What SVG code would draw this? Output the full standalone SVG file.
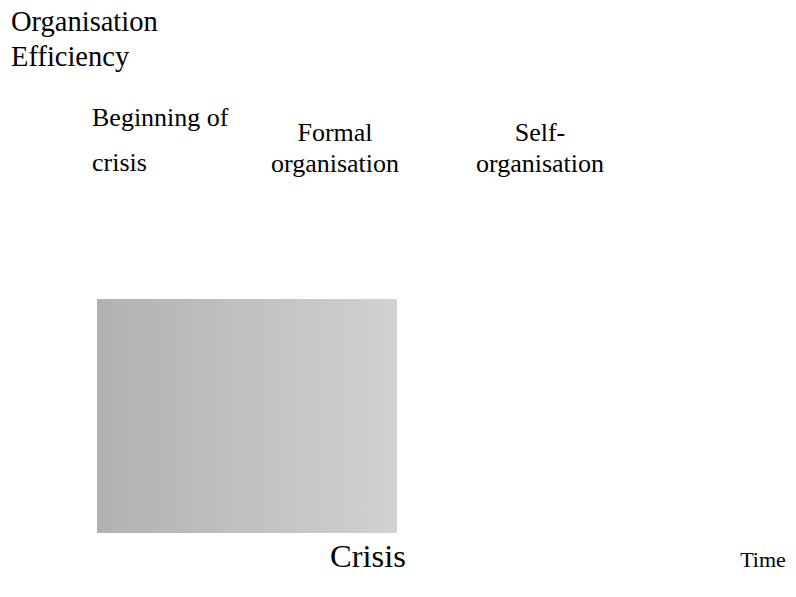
<svg xmlns="http://www.w3.org/2000/svg" width="796" height="597" viewBox="0 0 796 597">
  <defs>
    <linearGradient id="grad" x1="0" y1="0" x2="1" y2="0">
      <stop offset="0" stop-color="#b1b1b1"/>
      <stop offset="1" stop-color="#d1d1d1"/>
    </linearGradient>
  </defs>
  <style>
    text { font-family: "Liberation Serif", "Times New Roman", serif; fill: #000; }
    .mid { text-anchor: middle; }
  </style>
  <rect width="796" height="597" fill="#ffffff"/>
  <g id="crisis-zone">
    <rect x="97" y="299" width="300" height="234" fill="url(#grad)"/>
  </g>
  <g id="axis-y-label">
    <text x="11" y="31" font-size="28.5">Organisation</text>
    <text x="11" y="66" font-size="28.5">Efficiency</text>
  </g>
  <g id="beginning">
    <text x="92" y="126" font-size="26">Beginning of</text>
    <text x="92" y="171" font-size="26">crisis</text>
  </g>
  <g id="formal">
    <text x="335" y="141" font-size="26" class="mid">Formal</text>
    <text x="335" y="172" font-size="26" class="mid">organisation</text>
  </g>
  <g id="self">
    <text x="540" y="141" font-size="26" class="mid">Self-</text>
    <text x="540" y="172" font-size="26" class="mid">organisation</text>
  </g>
  <g id="crisis-label">
    <text x="368" y="567" font-size="32.5" class="mid">Crisis</text>
  </g>
  <g id="axis-x-label">
    <text x="763" y="567" font-size="22" class="mid">Time</text>
  </g>
  <g id="connectors"/>
</svg>
